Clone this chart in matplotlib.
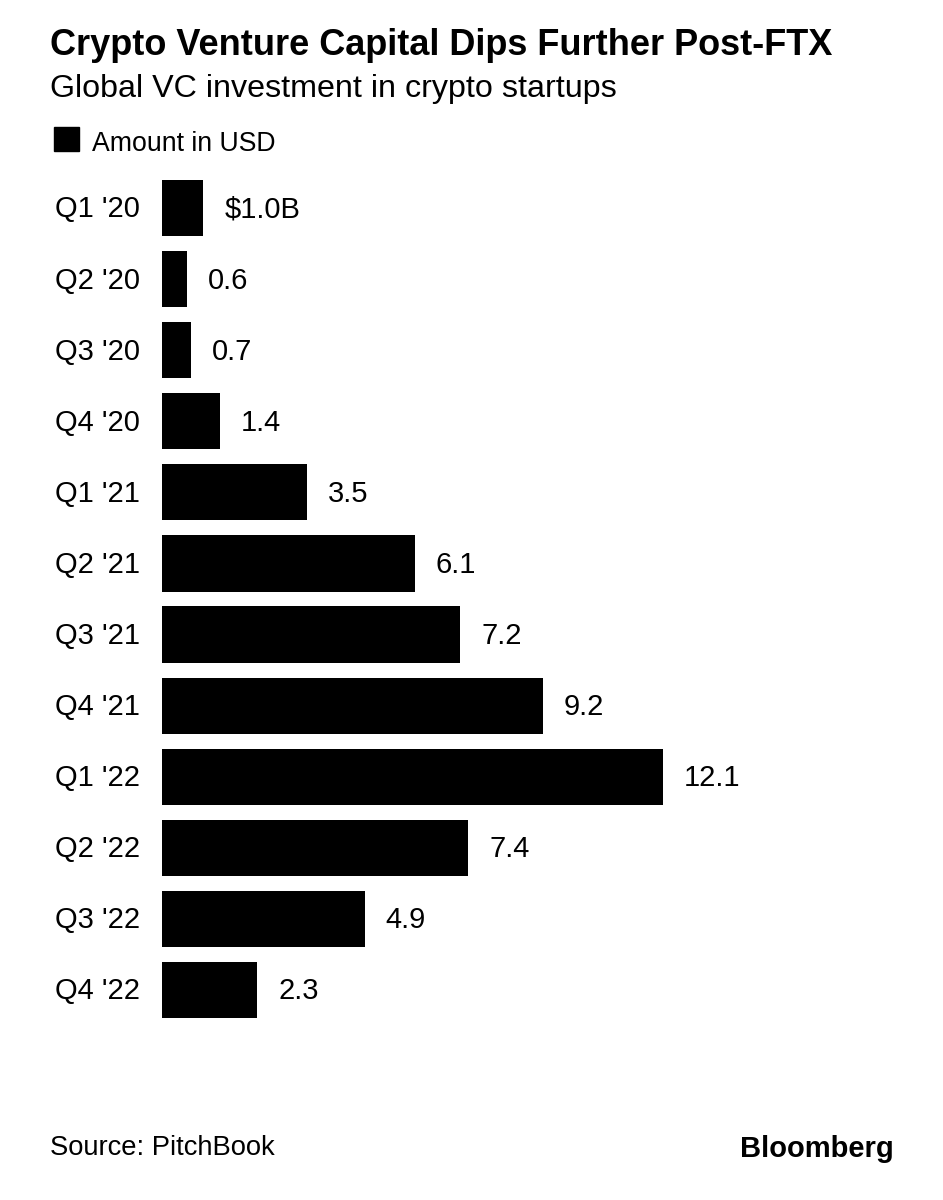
import matplotlib
matplotlib.use('Agg')
import matplotlib.pyplot as plt
from matplotlib.patches import Rectangle

# Data
quarters = ["Q1 '20", "Q2 '20", "Q3 '20", "Q4 '20",
            "Q1 '21", "Q2 '21", "Q3 '21", "Q4 '21",
            "Q1 '22", "Q2 '22", "Q3 '22", "Q4 '22"]
amounts = [1.0, 0.6, 0.7, 1.4, 3.5, 6.1, 7.2, 9.2, 12.1, 7.4, 4.9, 2.3]
value_labels = ["$1.0B", "0.6", "0.7", "1.4", "3.5", "6.1",
                "7.2", "9.2", "12.1", "7.4", "4.9", "2.3"]

W, H = 943, 1200
plt.rcParams['font.family'] = ['Liberation Sans', 'DejaVu Sans']

fig = plt.figure(figsize=(W / 100, H / 100), dpi=100)
fig.patch.set_facecolor('white')


def fy(px):
    return 1 - px / H


def fx(px):
    return px / W


# Header
fig.text(fx(50), fy(55), "Crypto Venture Capital Dips Further Post-FTX",
         fontsize=26, fontweight='bold', va='baseline', ha='left')
fig.text(fx(50), fy(97), "Global VC investment in crypto startups",
         fontsize=23.2, va='baseline', ha='left')

# Legend
fig.patches.append(Rectangle((fx(54), fy(151)), fx(25), 24 / H,
                             transform=fig.transFigure, color='black'))
fig.text(fx(92), fy(151), "Amount in USD", fontsize=19.2, va='baseline', ha='left')

# Bars
ax_top, ax_bot = 170, 1030
ax = fig.add_axes([fx(162), fy(ax_bot), fx(781), (ax_bot - ax_top) / H])
ypos = list(range(len(quarters)))
ax.barh(ypos, amounts, height=0.79, color='black')
step = 71.09
ax.set_ylim((ax_bot - 208) / step, (ax_top - 208) / step)
ax.set_xlim(0, 781 / 41.4)
ax.axis('off')

for i, (q, v, lab) in enumerate(zip(quarters, amounts, value_labels)):
    ax.annotate(q, xy=(0, i), xytext=(-22 * 0.72, -9.5 * 0.72),
                textcoords='offset points', ha='right', va='baseline',
                fontsize=21)
    ax.annotate(lab, xy=(v, i), xytext=(21 * 0.72, -9.5 * 0.72),
                textcoords='offset points', ha='left', va='baseline',
                fontsize=21)

# Footer
fig.text(fx(50), fy(1155), "Source: PitchBook", fontsize=19.7,
         va='baseline', ha='left')
fig.text(fx(894), fy(1157), "Bloomberg", fontsize=21, fontweight='bold',
         va='baseline', ha='right')

fig.savefig('out.png', dpi=100, facecolor='white')
